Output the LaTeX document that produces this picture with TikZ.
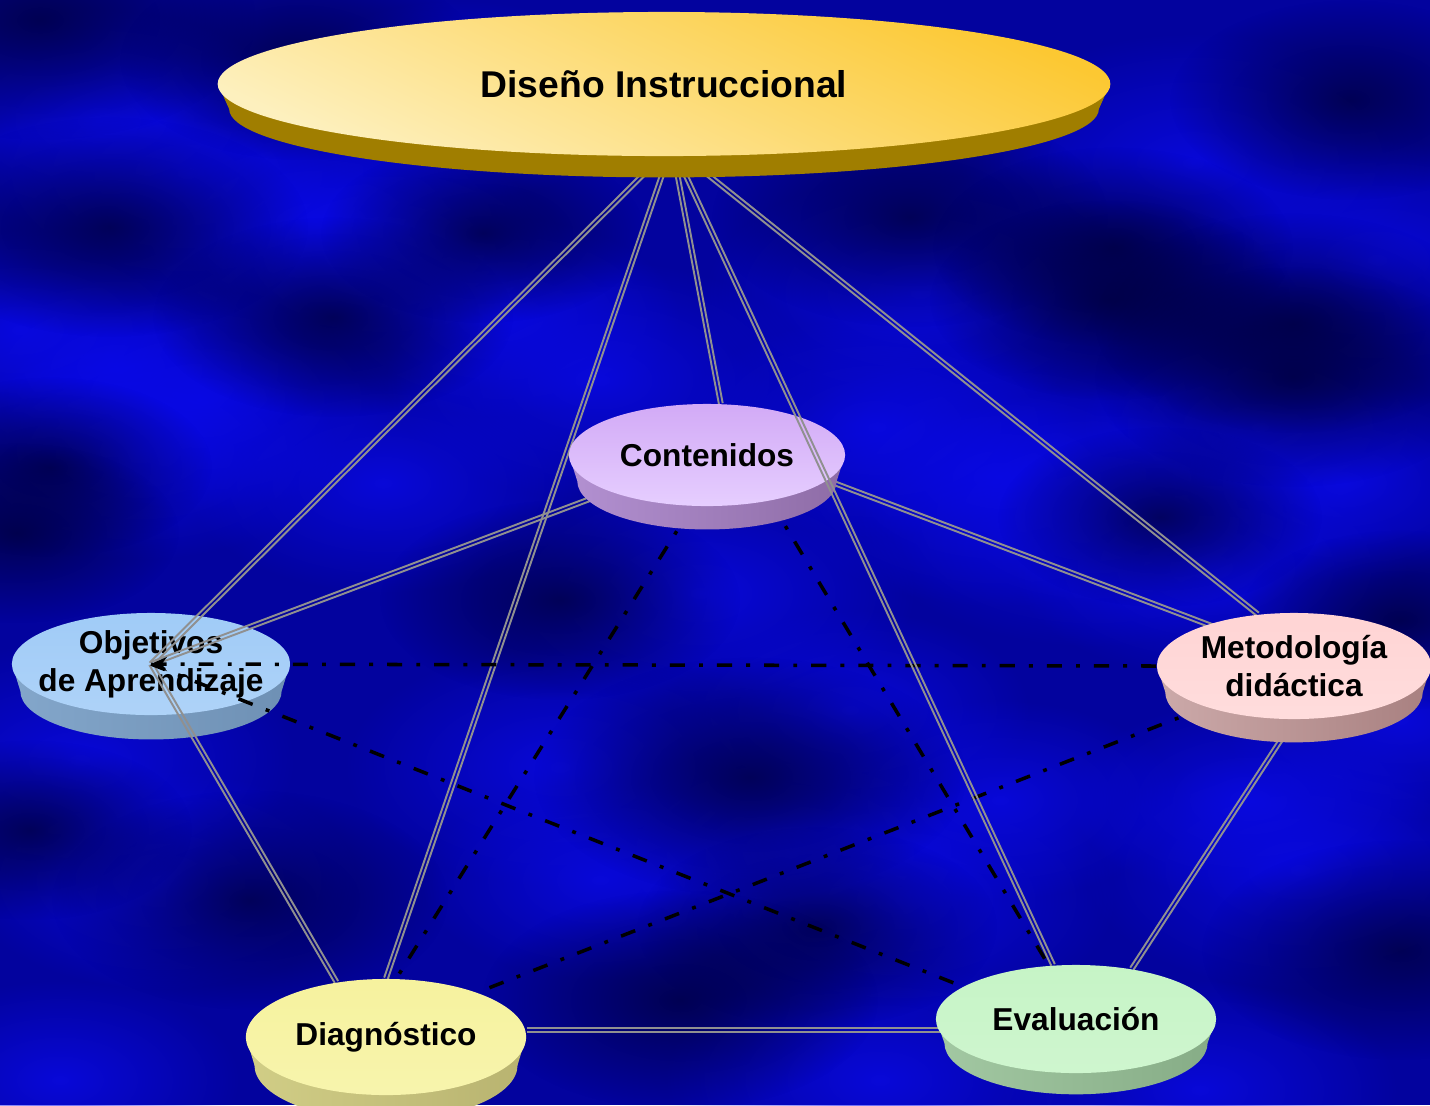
\documentclass[tikz,border=0pt]{standalone}
\usepackage{fontspec}
\setmainfont{Liberation Sans}
\usepackage{xcolor}
\definecolor{cSea}{HTML}{03039E}
\definecolor{cGlow}{HTML}{0A0AEC}
\definecolor{cDeep}{HTML}{00003A}
\definecolor{cRail}{HTML}{909090}
\definecolor{cGoldA}{HTML}{FDF0BE}
\definecolor{cGoldB}{HTML}{FCC832}
\definecolor{cGoldS}{HTML}{A07E00}
\definecolor{cLilacA}{HTML}{D2AAF6}
\definecolor{cLilacB}{HTML}{E6CEFF}
\definecolor{cLilacS}{HTML}{8E6CA6}
\definecolor{cSkyA}{HTML}{A0CBF7}
\definecolor{cSkyS}{HTML}{6E90B4}
\definecolor{cRoseA}{HTML}{FFD4D4}
\definecolor{cRoseS}{HTML}{A88080}
\definecolor{cLemonA}{HTML}{F6F29E}
\definecolor{cLemonS}{HTML}{B8B370}
\definecolor{cMintA}{HTML}{C6F4C6}
\definecolor{cMintS}{HTML}{86AC86}
\usepackage{tikz}
\usetikzlibrary{positioning,arrows.meta,calc,shapes.geometric,fadings}
\pgfdeclarelayer{backdrop}
\pgfdeclarelayer{links}
\pgfdeclarelayer{front}
\pgfsetlayers{backdrop,links,main,front}
\tikzfading[name=blob,inner color=transparent!25,outer color=transparent!100]
\tikzset{
  disc-face/.style={ellipse,inner xsep=-6pt,inner ysep=-2pt,align=center,
    font=\fontsize{9}{10.8}\selectfont\bfseries},
  dis-face/.style={top color=cGoldB,bottom color=cGoldA,shading angle=-25,
    font=\fontsize{10.6}{12}\selectfont\bfseries},
  dis-side/.style={fill=cGoldS},
  cont-face/.style={top color=cLilacA,bottom color=cLilacB},
  cont-side/.style={left color=cLilacA!85!black,right color=cLilacS},
  obj-face/.style={top color=cSkyA,bottom color=cSkyA!85!white},
  obj-side/.style={left color=cSkyA!82!black,right color=cSkyS},
  met-face/.style={top color=cRoseA,bottom color=cRoseA!80!white},
  met-side/.style={left color=cRoseA!80!black,right color=cRoseS},
  diag-face/.style={top color=cLemonA,bottom color=cLemonA!85!white},
  diag-side/.style={left color=cLemonA!85!black,right color=cLemonS},
  eval-face/.style={top color=cMintA,bottom color=cMintA!85!white},
  eval-side/.style={left color=cMintA!82!black,right color=cMintS},
  link-rail/.style={draw=cRail,line width=0.55pt},
  link-dash/.style={draw=black,line width=1pt,
    dash pattern=on 4.3pt off 4pt on 1.1pt off 4pt},
}
% disc: [taper], name, x, y (down), x radius, y radius, depth, text
\newcommand{\disc}[8][0.94]{%
  \path[#2-side] (#3-#5,-#4) -- (#3-#1*#5,-#4-#7)
    arc[start angle=180,end angle=360,x radius=#1*#5,y radius=0.95*#6]
    -- (#3+#5,-#4) -- cycle;
  \node[disc-face,#2-face,minimum width=#5*0.02cm,minimum height=#6*0.02cm]
    (#2) at (#3,-#4) {#8};}
\newcommand{\linkrail}[2]{%
  \draw[link-rail] ($(#1)!0.55pt!90:(#2)$) -- ($(#2)!0.55pt!-90:(#1)$)
    ($(#1)!0.55pt!-90:(#2)$) -- ($(#2)!0.55pt!90:(#1)$);}

\begin{document}
\begin{tikzpicture}[x=0.01cm,y=0.01cm]
  \useasboundingbox (0,0) rectangle (1430,-1105);
  \begin{pgfonlayer}{backdrop}
    \fill[cSea] (0,0) rectangle (1430,-1105);
    \foreach \bx/\by/\br in {187/173/120,20/330/100,117/367/110,200/400/110,
        317/227/120,383/250/100,140/450/110,383/483/110,500/317/100,920/293/120,
        877/427/110,1000/477/130,1093/517/130,1210/567/110,1260/427/100,
        1377/260/120,1193/163/130,1343/483/100,700/593/120,560/767/120,
        790/853/110,900/900/120,850/710/100,80/760/120,160/880/110,1300/870/120,
        1250/800/100,880/1080/120,1200/1090/110,60/1080/100,600/380/120,
        100/120/110,460/100/100,600/880/100,1400/720/100,1000/800/100}
      \fill[cGlow,path fading=blob] (\bx,-\by) ellipse [x radius=1.8*\br,y radius=\br];
    \foreach \bx/\by/\br in {110/227/110,333/317/100,50/467/90,17/533/90,
        483/233/90,910/217/110,1113/247/100,1110/300/100,1293/323/110,
        1293/377/110,1160/517/90,560/600/100,750/777/120,817/927/100,
        250/900/110,30/830/90,1400/950/110,680/1000/110,1400/620/90,
        40/20/120,300/60/100,1350/100/100}
      \fill[cDeep,path fading=blob] (\bx,-\by) ellipse [x radius=1.8*\br,y radius=\br];
    \disc{obj}{151}{664}{139}{51}{27}{Objetivos\\de Aprendizaje}
  \end{pgfonlayer}

  \disc{cont}{707}{455}{138}{51}{26}{Contenidos}
  \disc{met}{1294}{666}{137}{53}{26}{Metodología\\didáctica}
  \disc{diag}{386}{1037}{140}{58}{28}{Diagnóstico}
  \disc{eval}{1076}{1019}{140}{54}{24}{Evaluación}

  \coordinate (hub) at (672,-146);
  \coordinate (cont-r) at ([yshift=0.2cm]cont.center);
  \coordinate (met-l) at ([yshift=0.09cm]met.center);
  \coordinate (diag-e) at ([yshift=0.07cm]diag.east);
  \coordinate (eval-w) at (diag-e -| eval.center);

  \begin{pgfonlayer}{links}
    \linkrail{hub}{obj.center}
    \linkrail{hub}{diag.north}
    \linkrail{hub}{cont.75}
    \linkrail{hub}{met.125}
    \linkrail{obj.center}{cont.center}
    \linkrail{obj.center}{diag.132}
    \linkrail{cont-r}{met-l}
    \linkrail{met.south}{eval.42}
    \linkrail{diag-e}{eval-w}
    \draw[link-dash] (cont.254) -- (diag.80);
    \draw[link-dash] (cont.324) -- (eval.117);
    \draw[link-dash] (obj.center) -- (eval.164);
    \draw[link-dash] (met.205) -- (diag.26);
    \draw[link-dash,-{Stealth[length=4.5pt,width=4pt]}] (met.west) -- (obj.center);
  \end{pgfonlayer}

  \begin{pgfonlayer}{front}
    \linkrail{hub}{eval.113}
    \disc[0.975]{dis}{664}{84}{446}{72}{25}{Diseño Instruccional}
  \end{pgfonlayer}
\end{tikzpicture}
\end{document}
